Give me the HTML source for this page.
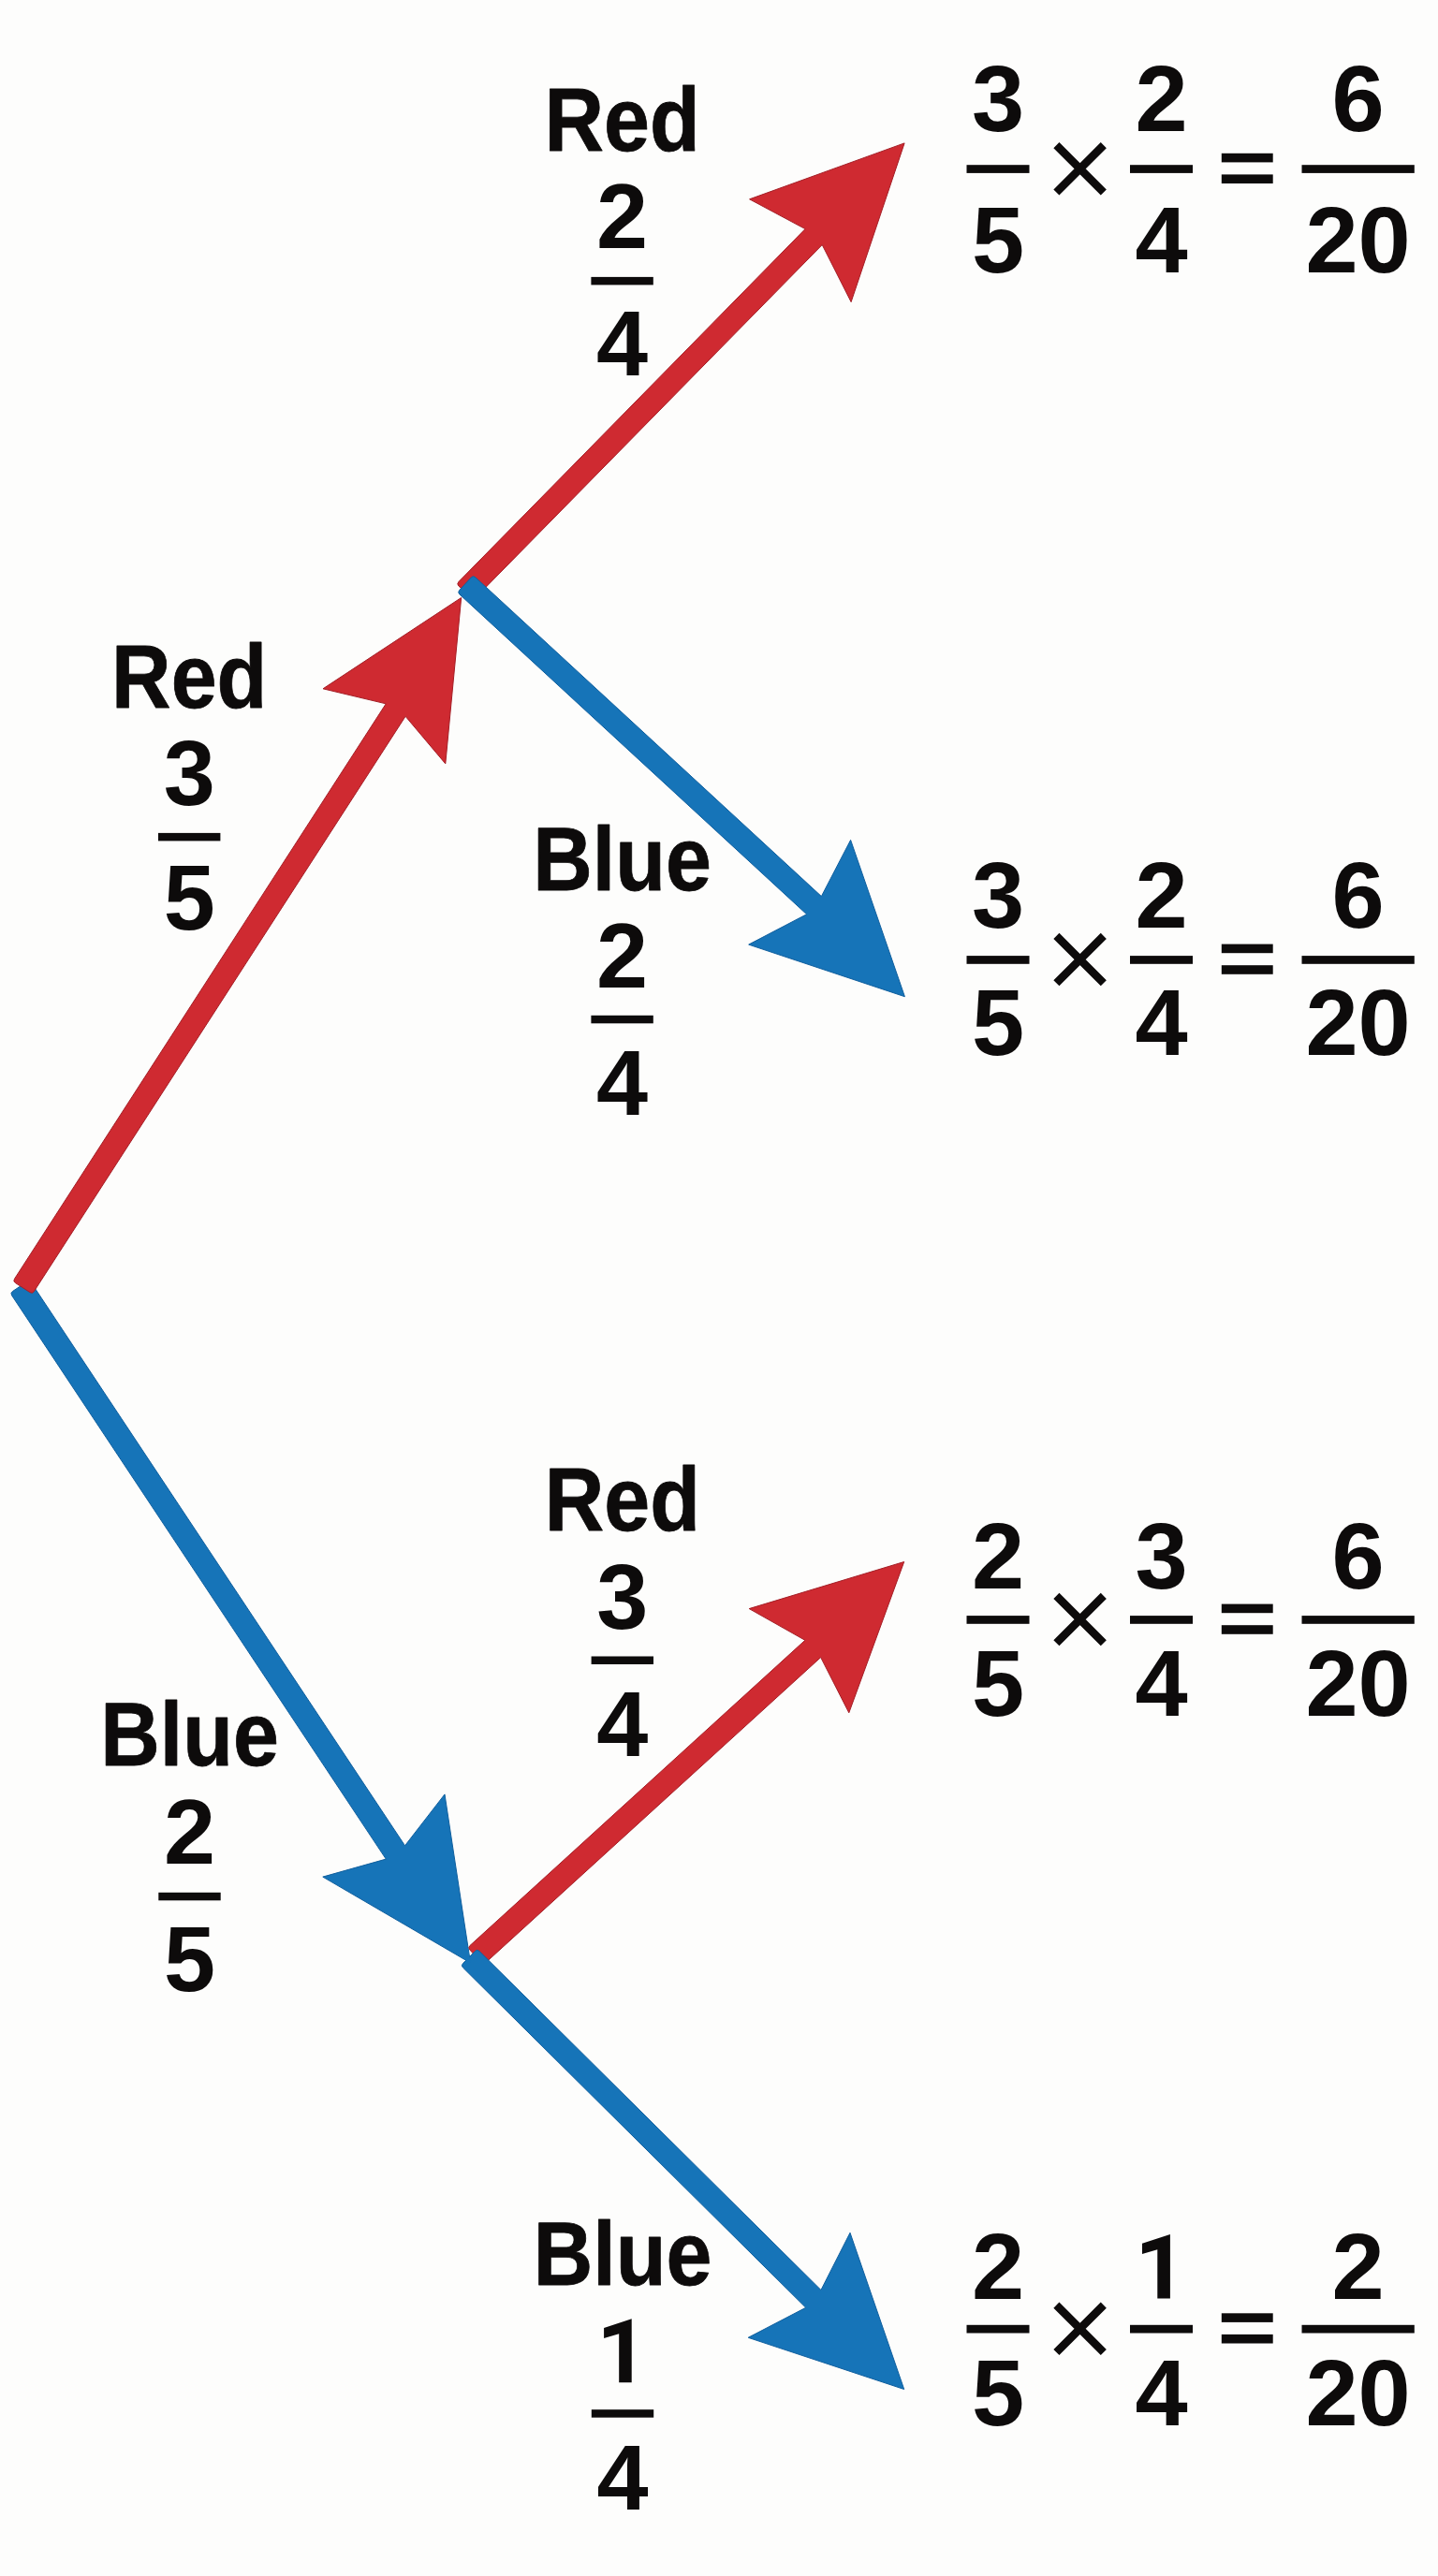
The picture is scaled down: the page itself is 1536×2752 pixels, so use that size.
<!DOCTYPE html>
<html><head><meta charset="utf-8"><title>Probability tree</title>
<style>html,body{margin:0;padding:0;background:#fdfdfc;} svg{display:block;}</style>
</head><body>
<svg width="1536" height="2752" viewBox="0 0 1536 2752">
<rect width="1536" height="2752" fill="#fdfdfc"/>
<defs><clipPath id="nodeclip"><circle cx="500" cy="2090" r="9"/></clipPath></defs>
<path d="M12.64,1383.92 L412.29,1986.10 L344.80,2005.10 L502.50,2097.00 L475.00,1916.90 L432.54,1971.77 L33.30,1370.21 Q31.53,1367.54 28.87,1369.31 L13.53,1379.49 Q10.87,1381.26 12.64,1383.92 Z" fill="#1674b8" stroke="#105f9e" stroke-width="1.0" stroke-linejoin="miter" stroke-miterlimit="3"/>
<path d="M36.35,1379.64 L433.10,765.25 L475.80,815.90 L492.70,638.50 L345.00,735.80 L412.24,751.84 L15.52,1366.19 Q13.78,1368.87 16.47,1370.61 L31.93,1380.59 Q34.62,1382.33 36.35,1379.64 Z" fill="#cf2a31" stroke="#a41e26" stroke-width="1.0" stroke-linejoin="miter" stroke-miterlimit="3"/>
<path d="M507.59,638.91 L878.22,261.53 L909.10,322.60 L966.10,152.90 L800.60,212.80 L860.09,244.59 L489.90,621.53 Q487.65,623.81 489.94,626.05 L503.06,638.95 Q505.35,641.19 507.59,638.91 Z" fill="#cf2a31" stroke="#a41e26" stroke-width="1.0" stroke-linejoin="miter" stroke-miterlimit="3"/>
<path d="M490.95,634.99 L861.61,976.77 L799.70,1009.10 L966.40,1064.70 L908.60,897.40 L877.38,957.59 L507.76,616.75 Q505.41,614.58 503.24,616.94 L490.76,630.46 Q488.59,632.82 490.95,634.99 Z" fill="#1674b8" stroke="#105f9e" stroke-width="1.0" stroke-linejoin="miter" stroke-miterlimit="3"/>
<path d="M518.72,2096.81 L876.70,1770.58 L906.80,1829.80 L965.70,1668.50 L800.20,1718.60 L859.94,1752.30 L502.01,2078.48 Q499.65,2080.63 501.80,2083.00 L514.20,2096.60 Q516.35,2098.97 518.72,2096.81 Z" fill="#cf2a31" stroke="#a41e26" stroke-width="1.0" stroke-linejoin="miter" stroke-miterlimit="3"/>
<path d="M494.54,2102.06 L860.73,2465.31 L799.20,2497.30 L965.70,2552.50 L908.00,2385.30 L876.96,2446.48 L512.00,2084.45 Q509.73,2082.20 507.48,2084.47 L494.52,2097.53 Q492.27,2099.80 494.54,2102.06 Z" fill="#1674b8" stroke="#105f9e" stroke-width="1.0" stroke-linejoin="miter" stroke-miterlimit="3"/>
<path d="M12.64,1383.92 L412.29,1986.10 L344.80,2005.10 L502.50,2097.00 L475.00,1916.90 L432.54,1971.77 L33.30,1370.21 Q31.53,1367.54 28.87,1369.31 L13.53,1379.49 Q10.87,1381.26 12.64,1383.92 Z" fill="#1674b8" clip-path="url(#nodeclip)"/>
<g fill="#0d0b0b" font-family="'Liberation Sans', sans-serif" font-weight="bold">
<text x="1066.0" y="140.0" font-size="101" text-anchor="middle">3</text>
<rect x="1032.5" y="176.2" width="67.0" height="8.7" fill="#0d0b0b"/>
<text x="1066.0" y="290.6" font-size="101" text-anchor="middle">5</text>
<path d="M1128.39,155.09 L1178.81,205.51 M1178.81,155.09 L1128.39,205.51" stroke="#0d0b0b" stroke-width="8.6" stroke-linecap="butt" fill="none"/>
<text x="1240.5" y="140.0" font-size="101" text-anchor="middle">2</text>
<rect x="1207.0" y="176.2" width="67.0" height="8.7" fill="#0d0b0b"/>
<text x="1240.5" y="290.6" font-size="101" text-anchor="middle">4</text>
<rect x="1304.8" y="163.8" width="54.9" height="9.6" fill="#0d0b0b"/>
<rect x="1304.8" y="186.4" width="54.9" height="9.6" fill="#0d0b0b"/>
<text x="1450.6" y="140.0" font-size="101" text-anchor="middle">6</text>
<rect x="1390.5" y="176.2" width="120.3" height="8.7" fill="#0d0b0b"/>
<text x="1450.6" y="290.6" font-size="101" text-anchor="middle">20</text>
<text x="1066.0" y="991.0" font-size="101" text-anchor="middle">3</text>
<rect x="1032.5" y="1021.1" width="67.0" height="8.7" fill="#0d0b0b"/>
<text x="1066.0" y="1127.0" font-size="101" text-anchor="middle">5</text>
<path d="M1128.39,999.89 L1178.81,1050.31 M1178.81,999.89 L1128.39,1050.31" stroke="#0d0b0b" stroke-width="8.6" stroke-linecap="butt" fill="none"/>
<text x="1240.5" y="991.0" font-size="101" text-anchor="middle">2</text>
<rect x="1207.0" y="1021.1" width="67.0" height="8.7" fill="#0d0b0b"/>
<text x="1240.5" y="1127.0" font-size="101" text-anchor="middle">4</text>
<rect x="1304.8" y="1008.6" width="54.9" height="9.6" fill="#0d0b0b"/>
<rect x="1304.8" y="1031.2" width="54.9" height="9.6" fill="#0d0b0b"/>
<text x="1450.6" y="991.0" font-size="101" text-anchor="middle">6</text>
<rect x="1390.5" y="1021.1" width="120.3" height="8.7" fill="#0d0b0b"/>
<text x="1450.6" y="1127.0" font-size="101" text-anchor="middle">20</text>
<text x="1066.0" y="1696.6" font-size="101" text-anchor="middle">2</text>
<rect x="1032.5" y="1726.1" width="67.0" height="8.7" fill="#0d0b0b"/>
<text x="1066.0" y="1832.5" font-size="101" text-anchor="middle">5</text>
<path d="M1128.39,1704.89 L1178.81,1755.31 M1178.81,1704.89 L1128.39,1755.31" stroke="#0d0b0b" stroke-width="8.6" stroke-linecap="butt" fill="none"/>
<text x="1240.5" y="1696.6" font-size="101" text-anchor="middle">3</text>
<rect x="1207.0" y="1726.1" width="67.0" height="8.7" fill="#0d0b0b"/>
<text x="1240.5" y="1832.5" font-size="101" text-anchor="middle">4</text>
<rect x="1304.8" y="1713.6" width="54.9" height="9.6" fill="#0d0b0b"/>
<rect x="1304.8" y="1736.2" width="54.9" height="9.6" fill="#0d0b0b"/>
<text x="1450.6" y="1696.6" font-size="101" text-anchor="middle">6</text>
<rect x="1390.5" y="1726.1" width="120.3" height="8.7" fill="#0d0b0b"/>
<text x="1450.6" y="1832.5" font-size="101" text-anchor="middle">20</text>
<text x="1066.0" y="2455.6" font-size="101" text-anchor="middle">2</text>
<rect x="1032.5" y="2483.8" width="67.0" height="8.7" fill="#0d0b0b"/>
<text x="1066.0" y="2590.8" font-size="101" text-anchor="middle">5</text>
<path d="M1128.39,2462.59 L1178.81,2513.01 M1178.81,2462.59 L1128.39,2513.01" stroke="#0d0b0b" stroke-width="8.6" stroke-linecap="butt" fill="none"/>
<polygon points="1249.9,2387.0 1249.9,2455.6 1236.3,2455.6 1236.3,2403.2 1220.0,2408.0 1220.0,2396.8" fill="#0d0b0b"/>
<rect x="1207.0" y="2483.8" width="67.0" height="8.7" fill="#0d0b0b"/>
<text x="1240.5" y="2590.8" font-size="101" text-anchor="middle">4</text>
<rect x="1304.8" y="2471.3" width="54.9" height="9.6" fill="#0d0b0b"/>
<rect x="1304.8" y="2493.9" width="54.9" height="9.6" fill="#0d0b0b"/>
<text x="1450.6" y="2455.6" font-size="101" text-anchor="middle">2</text>
<rect x="1390.5" y="2483.8" width="120.3" height="8.7" fill="#0d0b0b"/>
<text x="1450.6" y="2590.8" font-size="101" text-anchor="middle">20</text>
<text x="0" y="0" font-size="97" text-anchor="middle" stroke="#0d0b0b" stroke-width="0.8" stroke-linejoin="round" transform="translate(664.6 161.3) scale(0.907 1)">Red</text>
<text x="664.6" y="265.0" font-size="99" text-anchor="middle">2</text>
<rect x="631.4" y="295.9" width="66.4" height="8.5" fill="#0d0b0b"/>
<text x="664.6" y="401.0" font-size="99" text-anchor="middle">4</text>
<text x="0" y="0" font-size="97" text-anchor="middle" stroke="#0d0b0b" stroke-width="0.8" stroke-linejoin="round" transform="translate(202.2 755.5) scale(0.907 1)">Red</text>
<text x="202.2" y="859.6" font-size="99" text-anchor="middle">3</text>
<rect x="169.0" y="889.9" width="66.4" height="8.5" fill="#0d0b0b"/>
<text x="202.2" y="992.5" font-size="99" text-anchor="middle">5</text>
<text x="0" y="0" font-size="97" text-anchor="middle" stroke="#0d0b0b" stroke-width="0.8" stroke-linejoin="round" transform="translate(664.6 950.6) scale(0.907 1)">Blue</text>
<text x="664.6" y="1055.1" font-size="99" text-anchor="middle">2</text>
<rect x="631.4" y="1084.8" width="66.4" height="8.5" fill="#0d0b0b"/>
<text x="664.6" y="1190.5" font-size="99" text-anchor="middle">4</text>
<text x="0" y="0" font-size="97" text-anchor="middle" stroke="#0d0b0b" stroke-width="0.8" stroke-linejoin="round" transform="translate(664.8 1635.2) scale(0.907 1)">Red</text>
<text x="664.8" y="1739.6" font-size="99" text-anchor="middle">3</text>
<rect x="631.6" y="1769.5" width="66.4" height="8.5" fill="#0d0b0b"/>
<text x="664.8" y="1875.8" font-size="99" text-anchor="middle">4</text>
<text x="0" y="0" font-size="97" text-anchor="middle" stroke="#0d0b0b" stroke-width="0.8" stroke-linejoin="round" transform="translate(202.5 1886.0) scale(0.907 1)">Blue</text>
<text x="202.5" y="1991.2" font-size="99" text-anchor="middle">2</text>
<rect x="169.3" y="2021.8" width="66.4" height="8.5" fill="#0d0b0b"/>
<text x="202.5" y="2127.0" font-size="99" text-anchor="middle">5</text>
<text x="0" y="0" font-size="97" text-anchor="middle" stroke="#0d0b0b" stroke-width="0.8" stroke-linejoin="round" transform="translate(665.0 2440.5) scale(0.907 1)">Blue</text>
<polygon points="674.7,2477.3 674.7,2545.2 661.2,2545.2 661.2,2493.3 645.1,2498.1 645.1,2487.0" fill="#0d0b0b"/>
<rect x="631.8" y="2574.2" width="66.4" height="8.5" fill="#0d0b0b"/>
<text x="665.0" y="2681.4" font-size="99" text-anchor="middle">4</text>
</g>
</svg>
</body></html>
